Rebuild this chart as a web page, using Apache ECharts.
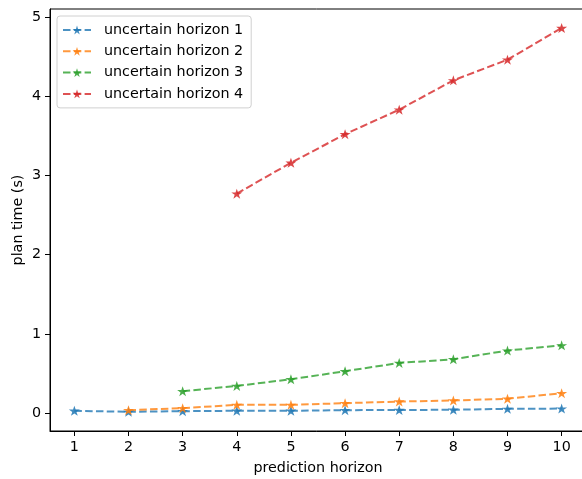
<!DOCTYPE html>
<html>
<head>
<meta charset="utf-8">
<script src="https://cdn.jsdelivr.net/npm/echarts@6/dist/echarts.min.js"></script>
<style>html,body{margin:0;padding:0;background:#fff}#c{width:582px;height:479px}</style>
</head>
<body>
<div id="c"></div>
<script>
const xTicks = [1, 2, 3, 4, 5, 6, 7, 8, 9, 10];
const yTicks = [0, 1, 2, 3, 4, 5];
const seriesNames = ['uncertain horizon 1', 'uncertain horizon 2', 'uncertain horizon 3', 'uncertain horizon 4'];
const h1x = [1, 2, 3, 4, 5, 6, 7, 8, 9, 10];
const h1y = [0.030, 0.017, 0.025, 0.030, 0.030, 0.038, 0.040, 0.043, 0.055, 0.058];
const h2x = [2, 3, 4, 5, 6, 7, 8, 9, 10];
const h2y = [0.038, 0.063, 0.105, 0.105, 0.126, 0.147, 0.160, 0.182, 0.252];
const h3x = [3, 4, 5, 6, 7, 8, 9, 10];
const h3y = [0.277, 0.344, 0.428, 0.529, 0.634, 0.680, 0.790, 0.856];
const h4x = [4, 5, 6, 7, 8, 9, 10];
const h4y = [2.77, 3.16, 3.52, 3.83, 4.20, 4.46, 4.86];
const colors = ['#1f77b4', '#ff7f0e', '#2ca02c', '#d62728'];

const STAR = 'path://M0,-100L22.45,-30.9L95.1,-30.9L36.3,11.8L58.8,80.9L0,38.2L-58.8,80.9L-36.3,11.8L-95.1,-30.9L-22.45,-30.9Z';
const FONT = 'DejaVu Sans';

function pairs(xs, ys) { return xs.map((x, i) => [x, ys[i]]); }
const allX = [h1x, h2x, h3x, h4x];
const allY = [h1y, h2y, h3y, h4y];

const series = seriesNames.map((name, i) => ({
  name: name,
  type: 'line',
  data: pairs(allX[i], allY[i]),
  symbol: STAR,
  symbolSize: [11, 10.5],
  symbolKeepAspect: true,
  itemStyle: { color: colors[i], opacity: 0.85, borderWidth: 0 },
  lineStyle: { color: colors[i], width: 2, type: [7.5, 3.3], opacity: 0.8 },
  emphasis: { disabled: true },
  animation: false
}));

const chart = echarts.init(document.getElementById('c'), null, { renderer: 'canvas' });
chart.setOption({
  animation: false,
  backgroundColor: '#fff',
  grid: { left: 50, top: 9, right: -4, bottom: 48, outerBoundsMode: 'none', containLabel: false, show: true, borderColor: '#000', borderWidth: 1, backgroundColor: 'transparent' },
  legend: {
    orient: 'vertical', left: 57, top: 16,
    padding: [7, 8, 7, 5],
    itemWidth: 28, itemHeight: 11, itemGap: 7.3,
    borderColor: '#d0d0d0', borderWidth: 1, borderRadius: 3,
    backgroundColor: 'rgba(255,255,255,0.8)',
    itemStyle: { borderWidth: 0 },
    textStyle: { fontFamily: FONT, fontSize: 14.3, color: '#000', padding: [0, 0, 0, 8] },
    data: seriesNames
  },
  xAxis: {
    type: 'value', min: 0.55, max: 10.45,
    name: 'prediction horizon', nameLocation: 'middle', nameGap: 30, nameMoveOverlap: false,
    nameTextStyle: { fontFamily: FONT, fontSize: 14.3, color: '#000' },
    axisLine: { show: true, onZero: false, lineStyle: { color: '#000', width: 1 } },
    axisTick: { show: true, inside: false, length: 5, lineStyle: { color: '#000' }, customValues: xTicks },
    axisLabel: { fontFamily: FONT, fontSize: 14.3, color: '#000', margin: 9, customValues: xTicks },
    splitLine: { show: false }
  },
  yAxis: {
    type: 'value', min: -0.225, max: 5.1,
    name: 'plan time (s)', nameLocation: 'middle', nameGap: 25, nameMoveOverlap: false,
    nameTextStyle: { fontFamily: FONT, fontSize: 14.3, color: '#000' },
    axisLine: { show: true, onZero: false, lineStyle: { color: '#000', width: 1 } },
    axisTick: { show: true, inside: false, length: 5, lineStyle: { color: '#000' }, customValues: yTicks },
    axisLabel: { fontFamily: FONT, fontSize: 14.3, color: '#000', margin: 9, customValues: yTicks },
    splitLine: { show: false }
  },
  series: series
});
</script>
</body>
</html>
